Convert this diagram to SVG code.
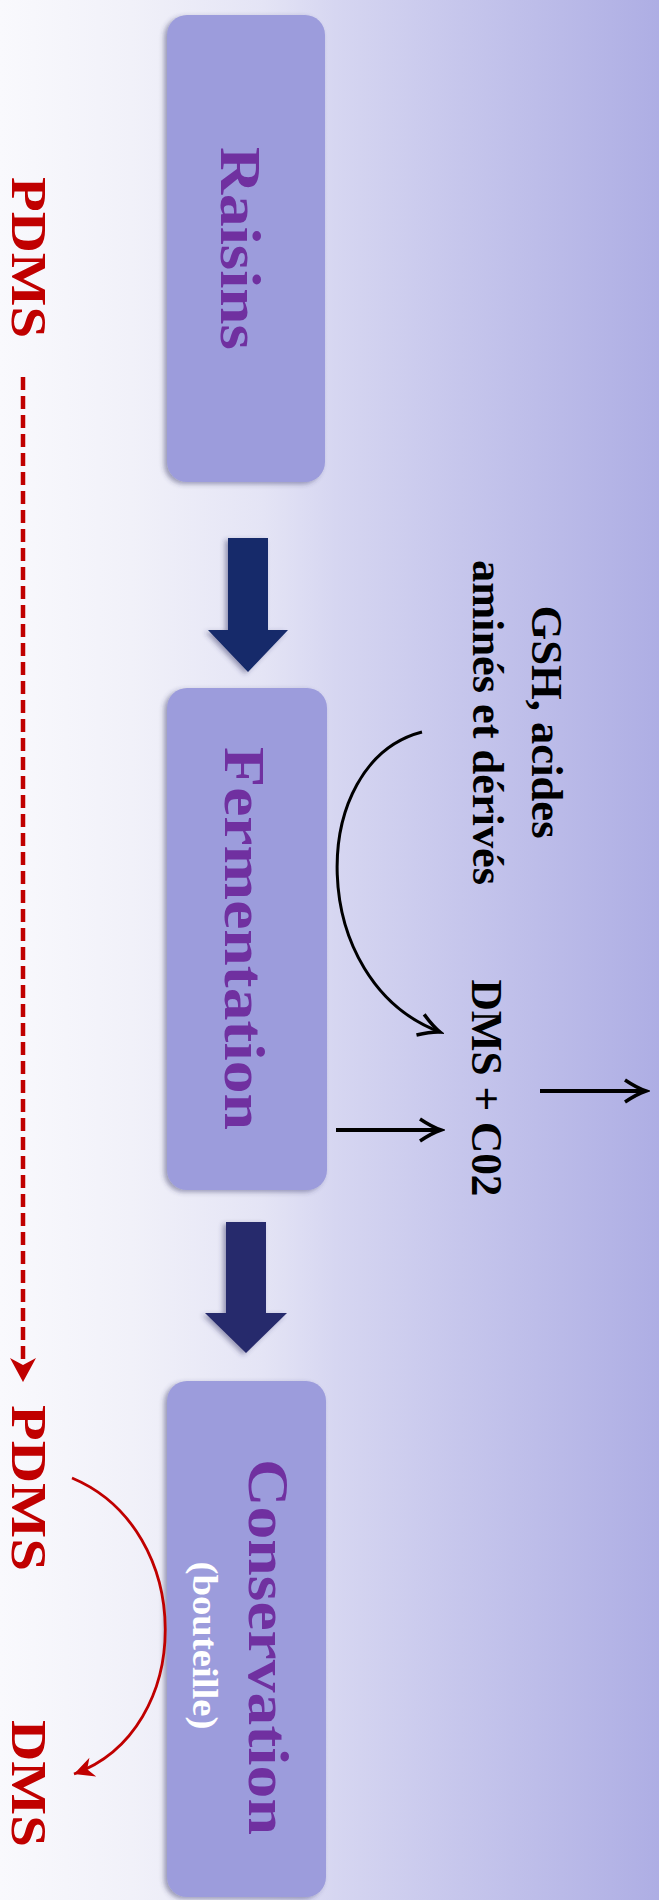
<svg xmlns="http://www.w3.org/2000/svg" width="659" height="1900" viewBox="0 0 659 1900">
  <defs>
    <linearGradient id="bg" x1="0" y1="0" x2="1" y2="0">
      <stop offset="0" stop-color="#f9f9fd"/>
      <stop offset="0.2" stop-color="#f1f1f9"/>
      <stop offset="0.4" stop-color="#e4e4f5"/>
      <stop offset="0.51" stop-color="#d6d6f1"/>
      <stop offset="0.7" stop-color="#c6c6ec"/>
      <stop offset="0.89" stop-color="#b7b7e7"/>
      <stop offset="1" stop-color="#aeaee4"/>
    </linearGradient>
    <filter id="shadow" x="-20%" y="-10%" width="140%" height="120%">
      <feDropShadow dx="-3" dy="2" stdDeviation="2.5" flood-color="#333366" flood-opacity="0.45"/>
    </filter>
    <marker id="blackHead" viewBox="-26 -14 30 28" markerWidth="30" markerHeight="28" refX="0" refY="0" orient="auto" markerUnits="userSpaceOnUse">
      <path d="M -21 -11 Q -9 -3 0 0 Q -9 3 -21 11" fill="none" stroke="#000" stroke-width="3.5" stroke-linejoin="miter"/>
    </marker>
    <marker id="redHead" viewBox="-28 -16 32 32" markerWidth="32" markerHeight="32" refX="0" refY="0" orient="auto" markerUnits="userSpaceOnUse">
      <path d="M 0 0 L -24 -13 L -17 0 L -24 13 Z" fill="#c00000"/>
    </marker>
    <marker id="redHeadSmall" viewBox="-24 -14 28 28" markerWidth="28" markerHeight="28" refX="0" refY="0" orient="auto" markerUnits="userSpaceOnUse">
      <path d="M 0 0 L -20 -10 L -14 0 L -20 10 Z" fill="#c00000"/>
    </marker>
    <style>
      .box { fill: #9c9cdc; filter: url(#shadow); }
      .big { font-family: "Liberation Serif", "Times New Roman", serif; font-weight: bold; font-size: 56px; fill: #7030a0; }
      .sub { font-family: "Liberation Serif", "Times New Roman", serif; font-weight: bold; font-size: 35px; fill: #ffffff; }
      .red { font-family: "Liberation Serif", "Times New Roman", serif; font-weight: bold; font-size: 51px; fill: #c00000; }
      .lbl { font-family: "Liberation Serif", "Times New Roman", serif; font-weight: bold; font-size: 44px; fill: #000000; }
      .bigArrow { filter: url(#shadow); }
      .blk { fill: none; stroke: #000; stroke-width: 4; }
    </style>
  </defs>

  <rect x="0" y="0" width="659" height="1900" fill="url(#bg)"/>

  <g id="raisins">
    <rect class="box" x="167" y="15" width="158" height="467" rx="20"/>
    <text class="big" text-anchor="middle" textLength="203" lengthAdjust="spacingAndGlyphs" transform="translate(221,248.5) rotate(90)">Raisins</text>
  </g>

  <g id="fermentation">
    <rect class="box" x="167" y="688" width="160" height="502" rx="20"/>
    <text class="big" text-anchor="middle" textLength="383" lengthAdjust="spacingAndGlyphs" transform="translate(225,938.5) rotate(90)">Fermentation</text>
  </g>

  <g id="conservation">
    <rect class="box" x="167" y="1381" width="159" height="516" rx="20"/>
    <text class="big" text-anchor="middle" textLength="376" lengthAdjust="spacingAndGlyphs" transform="translate(249,1647) rotate(90)">Conservation</text>
    <text class="sub" text-anchor="middle" textLength="168" lengthAdjust="spacingAndGlyphs" transform="translate(193,1645.5) rotate(90)">(bouteille)</text>
  </g>

  <g id="pdms-top">
    <text class="red" text-anchor="middle" textLength="161" lengthAdjust="spacingAndGlyphs" transform="translate(12,257.5) rotate(90)">PDMS</text>
  </g>

  <g id="pdms-bottom">
    <text class="red" text-anchor="middle" textLength="166" lengthAdjust="spacingAndGlyphs" transform="translate(12,1488) rotate(90)">PDMS</text>
  </g>

  <g id="dms-bottom">
    <text class="red" text-anchor="middle" textLength="127" lengthAdjust="spacingAndGlyphs" transform="translate(12,1783.5) rotate(90)">DMS</text>
  </g>

  <g id="gsh">
    <text class="lbl" text-anchor="middle" textLength="233" lengthAdjust="spacingAndGlyphs" transform="translate(532,722) rotate(90)">GSH, acides</text>
    <text class="lbl" text-anchor="middle" textLength="325" lengthAdjust="spacingAndGlyphs" transform="translate(473,722.5) rotate(90)">aminés et dérivés</text>
  </g>

  <g id="dms-co2">
    <text class="lbl" text-anchor="middle" textLength="217" lengthAdjust="spacingAndGlyphs" transform="translate(472,1088) rotate(90)">DMS + C02</text>
  </g>

  <g id="connectors">
    <polygon class="bigArrow" fill="#122a6a" points="228,538 268,538 268,630 288,630 248,672 208,630 228,630"/>
    <polygon class="bigArrow" fill="#272a6c" points="226,1222 266,1222 266,1313 287,1313 246,1353 205,1313 226,1313"/>
    <line x1="23" y1="377" x2="23" y2="1368" stroke="#c00000" stroke-width="4.5" stroke-dasharray="13 6"/>
    <line x1="23" y1="1366" x2="23" y2="1382" stroke="#c00000" stroke-width="0.1" marker-end="url(#redHead)"/>
    <path d="M 72 1478 C 196 1530, 196 1730, 74 1774" fill="none" stroke="#c00000" stroke-width="2.8" marker-end="url(#redHeadSmall)"/>
    <path d="M 422 732 C 306 762, 306 982, 440 1032" fill="none" stroke="#000" stroke-width="3" marker-end="url(#blackHead)"/>
    <line class="blk" x1="336" y1="1130" x2="441" y2="1130" marker-end="url(#blackHead)"/>
    <line class="blk" x1="540" y1="1091" x2="646" y2="1091" marker-end="url(#blackHead)"/>
  </g>
</svg>
